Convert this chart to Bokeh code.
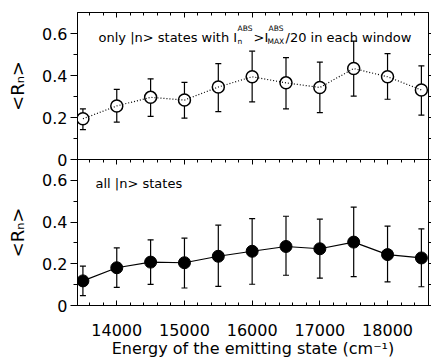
from bokeh.plotting import figure
from bokeh.layouts import column
from bokeh.models import (Range1d, LinearAxis, FixedTicker, SingleIntervalTicker,
                          Label, Whisker, TeeHead, ColumnDataSource, CustomJSTickFormatter)
from bokeh.embed import file_html
from bokeh.resources import INLINE

# ---------------- data ----------------
energy = [13500, 14000, 14500, 15000, 15500, 16000, 16500, 17000, 17500, 18000, 18500]

r_selected = [0.194, 0.255, 0.296, 0.283, 0.345, 0.394, 0.365, 0.343, 0.433, 0.394, 0.331]
r_selected_hi = [0.241, 0.334, 0.384, 0.367, 0.457, 0.516, 0.485, 0.464, 0.564, 0.504, 0.446]
r_selected_lo = [0.142, 0.178, 0.205, 0.197, 0.228, 0.274, 0.241, 0.223, 0.302, 0.287, 0.211]

r_all = [0.118, 0.181, 0.208, 0.205, 0.236, 0.260, 0.283, 0.272, 0.304, 0.244, 0.228]
r_all_hi = [0.189, 0.276, 0.315, 0.323, 0.385, 0.417, 0.428, 0.414, 0.472, 0.381, 0.367]
r_all_lo = [0.047, 0.087, 0.101, 0.084, 0.092, 0.102, 0.145, 0.131, 0.138, 0.113, 0.090]

y_major = [0, 0.2, 0.4, 0.6]
y_minor = [0.1, 0.3, 0.5]
y_right = [0, 0.1, 0.2, 0.3, 0.4, 0.5, 0.6]

X0, X1 = 13420, 18605
Y0, Y1 = 0, 0.7

FONT = "DejaVu Sans"
FW = 351
OVERLAP = 9  # room under the upper panel for its "0" label, overlapped by the lower panel


def base_axis(ax):
    ax.axis_line_color = "black"
    ax.axis_line_width = 1
    ax.major_tick_line_color = "black"
    ax.minor_tick_line_color = "black"
    ax.major_tick_line_width = 1
    ax.minor_tick_line_width = 1
    ax.major_label_text_font = FONT
    ax.major_label_text_color = "black"
    ax.axis_label_text_font = FONT
    ax.axis_label_text_font_style = "normal"
    ax.axis_label_text_color = "black"


def blank_labels(ax):
    ax.formatter = CustomJSTickFormatter(code="return '';")
    ax.major_label_standoff = 0


def x_ticks_in_axis():
    ax = LinearAxis(ticker=SingleIntervalTicker(interval=1000, num_minor_ticks=5))
    base_axis(ax)
    ax.major_tick_in = 5
    ax.major_tick_out = 0
    ax.minor_tick_in = 3
    ax.minor_tick_out = 0
    return ax


def make_panel(frame_h, top_border, bottom_border):
    p = figure(frame_width=FW, frame_height=frame_h,
               x_range=Range1d(X0, X1), y_range=Range1d(Y0, Y1),
               x_axis_location=None, y_axis_location=None,
               output_backend="svg", toolbar_location=None,
               min_border_left=77, min_border_right=0,
               min_border_top=top_border, min_border_bottom=bottom_border,
               background_fill_color="white", border_fill_color="white")
    p.grid.visible = False
    p.outline_line_color = "black"
    p.outline_line_width = 1
    p.outline_line_alpha = 1

    left = LinearAxis(ticker=FixedTicker(ticks=y_major, minor_ticks=y_minor),
                      axis_label="<Rₙ>")
    base_axis(left)
    left.formatter = CustomJSTickFormatter(
        code="return Math.abs(tick) < 1e-6 ? '0' : tick.toFixed(1);")
    left.major_tick_out = 7
    left.major_tick_in = 0
    left.minor_tick_out = 4
    left.minor_tick_in = 0
    left.major_label_text_font_size = "16px"
    left.major_label_standoff = 3
    left.axis_label_text_font_size = "18px"
    left.axis_label_standoff = 11
    p.add_layout(left, "left")

    right = LinearAxis(ticker=FixedTicker(ticks=y_right))
    base_axis(right)
    blank_labels(right)
    right.major_tick_out = 3
    right.major_tick_in = 0
    right.minor_tick_out = 0
    right.minor_tick_in = 0
    p.add_layout(right, "right")

    above = x_ticks_in_axis()
    blank_labels(above)
    p.add_layout(above, "above")
    return p


head = dict(size=6, line_color="black", line_width=1.2)
lab_kw = dict(x=X0, text_font=FONT, text_color="black", text_baseline="alphabetic")

# ---------------- upper panel ----------------
p1 = make_panel(147, 12, OVERLAP)

src1 = ColumnDataSource(dict(x=energy, y=r_selected, hi=r_selected_hi, lo=r_selected_lo))
p1.add_layout(Whisker(source=src1, base="x", upper="hi", lower="lo",
                      line_color="black", line_width=1.2,
                      upper_head=TeeHead(**head), lower_head=TeeHead(**head)))
p1.scatter("x", "y", source=src1, marker="circle", size=12,
           fill_color="white", line_color="black", line_width=1.5)
p1.line("x", "y", source=src1, line_color="black", line_width=1.2, line_dash="1 2")

p1.add_layout(Label(y=0.583, x_offset=21, text="only |n> states with I", text_font_size="13px", **lab_kw))
p1.add_layout(Label(y=0.623, x_offset=160, text="ABS", text_font_size="7.5px", **lab_kw))
p1.add_layout(Label(y=0.563, x_offset=160, text="n", text_font_size="7.5px", **lab_kw))
p1.add_layout(Label(y=0.583, x_offset=176, text=">I", text_font_size="13px", **lab_kw))
p1.add_layout(Label(y=0.623, x_offset=191, text="ABS", text_font_size="7.5px", **lab_kw))
p1.add_layout(Label(y=0.563, x_offset=190, text="MAX", text_font_size="7.5px", **lab_kw))
p1.add_layout(Label(y=0.583, x_offset=208, text="/20 in each window", text_font_size="13px", **lab_kw))

# ---------------- lower panel ----------------
p2 = make_panel(146, 0, 0)
p2.border_fill_alpha = 0
p2.margin = (-OVERLAP, 0, 0, 0)

bottom = x_ticks_in_axis()
bottom.major_label_text_font_size = "16px"
bottom.major_label_standoff = 18
bottom.axis_label = "Energy of the emitting state (cm⁻¹)"
bottom.axis_label_text_font_size = "16px"
bottom.axis_label_standoff = 0
p2.add_layout(bottom, "below")

src2 = ColumnDataSource(dict(x=energy, y=r_all, hi=r_all_hi, lo=r_all_lo))
p2.add_layout(Whisker(source=src2, base="x", upper="hi", lower="lo",
                      line_color="black", line_width=1.2,
                      upper_head=TeeHead(**head), lower_head=TeeHead(**head)))
p2.line("x", "y", source=src2, line_color="black", line_width=1.2)
p2.scatter("x", "y", source=src2, marker="circle", size=12,
           fill_color="black", line_color="black", line_width=1)

p2.add_layout(Label(y=0.586, x_offset=18, text="all |n>  states", text_font_size="13px", **lab_kw))

layout = column(p1, p2, spacing=0)

with open("out.html", "w") as f:
    f.write(file_html(layout, INLINE))
